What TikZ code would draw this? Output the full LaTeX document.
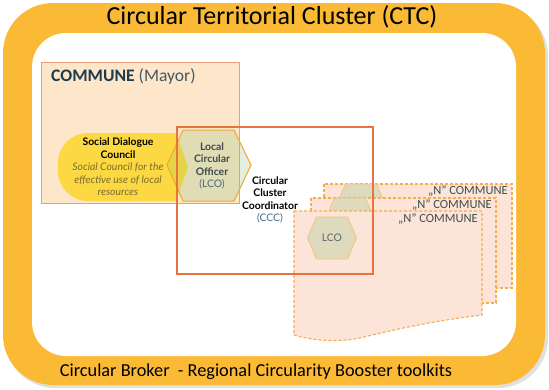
\documentclass[tikz,border=0pt]{standalone}
\usepackage{fontspec}
\setmainfont{Carlito}
\newfontfamily\innerfont{Lato}
\definecolor{ctcorange}{HTML}{FBBA36}
\definecolor{communefill}{HTML}{FDE6CA}
\definecolor{communeline}{HTML}{EF9C7A}
\definecolor{sdcyellow}{HTML}{FCD843}
\definecolor{sdctext}{HTML}{7A6C2E}
\definecolor{lcomint}{HTML}{E4EEDE}
\definecolor{lcopeach}{HTML}{E0DCB3}
\definecolor{lcoyellow}{HTML}{E4D44A}
\definecolor{hexline}{HTML}{F4A52C}
\definecolor{cccline}{HTML}{E7743C}
\definecolor{nfill}{HTML}{FCE5D8}
\definecolor{nline}{HTML}{F9AC4C}
\definecolor{smallhexfill}{HTML}{DEDABE}
\definecolor{smallhexline}{HTML}{F5C27E}
\definecolor{darktext}{HTML}{1F3C4C}
\definecolor{graytext}{HTML}{3E4C4E}
\definecolor{bluetext}{HTML}{4A6A86}
\newcommand\lcohexpath{(183,130) -- (234,130) -- (251,165) -- (234,201) -- (183,201) -- (167,165) -- cycle}
\newcommand\sdcpath{(188,167) -- (176,133) [rounded corners=30pt] -- (58,133) -- (58,201) [sharp corners] -- (176,201) -- cycle}
\newcommand\smallhexpath{(-24.5,0) -- (-15.5,-21) -- (15.5,-21) -- (24.5,0) -- (15.5,21) -- (-15.5,21) -- cycle}
\begin{document}
\begin{tikzpicture}[x=1pt, y=-1pt, every node/.style={inner sep=0pt},
    band/.style={fill=ctcorange, rounded corners=50pt},
    communebox/.style={draw=communeline, line width=0.9pt},
    nbox/.style={fill=nfill, draw=nline, line width=1.1pt, dash pattern=on 3pt off 2pt},
    smallhex/.style={fill=smallhexfill, draw=smallhexline, line width=0.8pt},
    cccbox/.style={draw=cccline, line width=2.2pt},
    nlabel/.style={anchor=east, text=graytext, font=\fontsize{12.5}{13}\selectfont},
    innertext/.style={align=center, font=\innerfont\fontsize{10.4}{12.5}\selectfont}]
    \useasboundingbox (0,0) rectangle (549,389);

    % Frame
    \fill[black!12, rounded corners=50pt] (5,6) rectangle (548,388);
    \fill[band] (3,3) rectangle (545,385);
    \fill[white, rounded corners=34pt] (32,33) rectangle (516,356);
    \node (title) at (272,17) {\fontsize{26}{28}\selectfont Circular Territorial Cluster (CTC)};
    \node (broker) at (256,372) {\fontsize{18.3}{20}\selectfont Circular Broker\ \ - Regional Circularity Booster toolkits};

    % Commune
    \fill[communefill] (41,62) rectangle (239,203);
    \node (commune) [anchor=west, font=\fontsize{17.6}{19}\selectfont] at (51,76) {\textcolor{darktext}{\textbf{COMMUNE}} \textcolor{darktext!85}{(Mayor)}};
    \fill[sdcyellow] \sdcpath;

    % Local circular officer
    \fill[lcomint] \lcohexpath;
    \begin{scope}
        \clip (41,62) rectangle (239,203);
        \fill[lcopeach] \lcohexpath;
    \end{scope}
    \begin{scope}
        \clip \sdcpath;
        \fill[lcoyellow] \lcohexpath;
    \end{scope}
    \draw[hexline, line width=1pt] \lcohexpath;
    \draw[communebox] (41,62) rectangle (239,203);

    \node (sdc) [innertext] at (118,167) {\textbf{Social Dialogue}\\\textbf{Council}\\
        \textcolor{sdctext}{\textit{Social Council for the}}\\
        \textcolor{sdctext}{\textit{effective use of local}}\\
        \textcolor{sdctext}{\textit{resources}}};
    \node (lco) [innertext, text=graytext] at (212,166) {\textbf{Local}\\\textbf{Circular}\\\textbf{Officer}\\\textcolor{bluetext}{(LCO)}};

    % "N" communes
    \fill[nbox] (324,184) rectangle (512,288);
    \path[smallhex, shift={(361,205)}] \smallhexpath;
    \node (n1) [nlabel] at (508,191) {„N” COMMUNE};
    \fill[nbox] (311,198) rectangle (496,303);
    \path[smallhex, shift={(350,219)}] \smallhexpath;
    \node (n2) [nlabel] at (492,205) {„N” COMMUNE};
    \fill[nbox] (294,211) -- (482,211) -- (482,315)
        .. controls (440,320) and (400,328) .. (360,338)
        .. controls (335,343) and (310,340) .. (294,335) -- cycle;
    \path[smallhex, shift={(332,238)}] \smallhexpath;
    \node (n3) [nlabel] at (478,219) {„N” COMMUNE};
    \node (lco3) [innertext, text=graytext!85] at (332,238) {LCO};

    % Circular cluster coordinator
    \draw[cccbox] (177,127) rectangle (373,274);
    \node (ccc) [innertext] at (270,200) {\textbf{Circular}\\\textbf{Cluster}\\\textbf{Coordinator}\\\textcolor{bluetext}{(CCC)}};
\end{tikzpicture}
\end{document}
